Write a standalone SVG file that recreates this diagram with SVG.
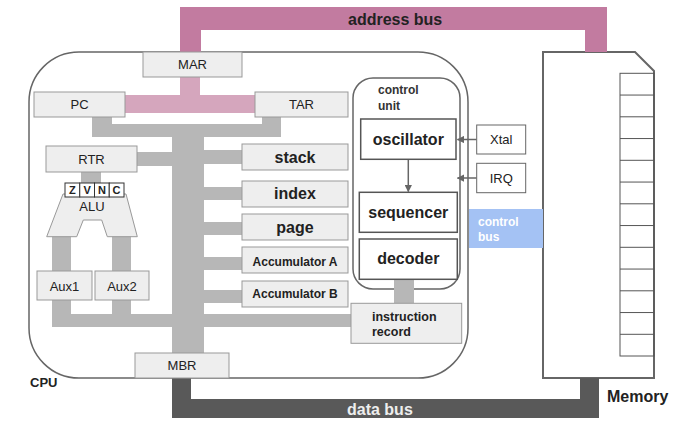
<svg xmlns="http://www.w3.org/2000/svg" width="690" height="431" viewBox="0 0 690 431">
<defs>
<marker id="arr" viewBox="0 0 10 10" refX="9" refY="5" markerWidth="5" markerHeight="5" orient="auto-start-reverse">
<path d="M0,0 L10,5 L0,10 Z" fill="#666"/>
</marker>
</defs>
<style>
text{font-family:"Liberation Sans",Arial,sans-serif;fill:#222}
.reg{fill:#eeeeee;stroke:#999;stroke-width:1}
.wbox{fill:#fff;stroke:#555;stroke-width:1.5}
.gbus{fill:#b7b7b7}
.lbl{font-size:13px;text-anchor:middle}
.big{font-size:16px;font-weight:bold;text-anchor:middle}
.med{font-size:12px;font-weight:bold;text-anchor:middle}
.arrow{stroke:#666;stroke-width:1.5;fill:none;marker-end:url(#arr)}
.flag{fill:#fff;stroke:#333;stroke-width:1}
.fl{font-size:11px;font-weight:bold;text-anchor:middle}
</style>
<rect width="690" height="431" fill="#fff"/>

<g id="cpu">
<rect x="29" y="52" width="439" height="326" rx="50" ry="50" fill="#fff" stroke="#666" stroke-width="1.5"/>
<text x="30" y="387" style="font-size:13px;font-weight:bold">CPU</text>
</g>

<g id="control-unit">
<rect x="353" y="78" width="107" height="211" rx="20" ry="20" fill="#fff" stroke="#666" stroke-width="1.5"/>
<text x="378" y="94" style="font-size:12px;font-weight:bold;fill:#333">control</text>
<text x="378" y="110" style="font-size:12px;font-weight:bold;fill:#333">unit</text>
</g>

<g id="memory">
<path d="M543,52 H635 L654,71 V378 H543 Z" fill="#fff" stroke="#666" stroke-width="2"/>
<g stroke="#555" stroke-width="1" fill="none">
<rect x="620" y="73.3" width="34" height="282.7"/>
<path d="M620,95.05H654M620,116.8H654M620,138.55H654M620,160.3H654M620,182.05H654M620,203.8H654M620,225.55H654M620,247.3H654M620,269.05H654M620,290.8H654M620,312.55H654M620,334.3H654"/>
</g>
<text x="607" y="402" style="font-size:16px;font-weight:bold">Memory</text>
</g>

<g id="connectors">
<path id="address-bus" d="M180,52 V7 H607 V52 H585 V30 H201 V52 Z" fill="#c27ba0"/>
<text x="348" y="25" style="font-size:16px;font-weight:bold">address bus</text>
<path d="M180,77 H200 V95 H255 V113 H125 V95 H180 Z" fill="#d5a6bd"/>
<path class="gbus" d="M92,117 H112 V124 H262 V117 H281 V137 H92 Z"/>
<rect class="gbus" x="172" y="124" width="32" height="229"/>
<rect class="gbus" x="137" y="152" width="35" height="14"/>
<rect class="gbus" x="204" y="150" width="38" height="14"/>
<rect class="gbus" x="204" y="187" width="38" height="13"/>
<rect class="gbus" x="204" y="222" width="38" height="13"/>
<rect class="gbus" x="204" y="257" width="38" height="13"/>
<rect class="gbus" x="204" y="290" width="38" height="13"/>
<rect class="gbus" x="52" y="314" width="299" height="13"/>
<rect class="gbus" x="52" y="300" width="19" height="14"/>
<rect class="gbus" x="112" y="300" width="19" height="14"/>
<rect class="gbus" x="52" y="236" width="19" height="35"/>
<rect class="gbus" x="112" y="236" width="19" height="35"/>
<rect class="gbus" x="81" y="172" width="20" height="11"/>
<rect class="gbus" x="394" y="279" width="20" height="24"/>
<path id="data-bus" d="M172,378 H191 V399 H580 V378 H599 V418 H172 Z" fill="#595959"/>
<text x="347" y="415" style="font-size:16px;font-weight:bold;fill:#eeeeee">data bus</text>
<line class="arrow" x1="408.3" y1="159.5" x2="408.3" y2="191.5"/>
<line class="arrow" x1="476.7" y1="139.5" x2="457.5" y2="139.5"/>
<line class="arrow" x1="476.7" y1="178" x2="457.5" y2="178"/>
</g>

<g id="control-bus">
<rect x="469" y="209" width="74" height="39" fill="#a4c2f4"/>
<text x="478" y="225.5" style="font-size:12px;font-weight:bold;fill:#fff">control</text>
<text x="478" y="240.5" style="font-size:12px;font-weight:bold;fill:#fff">bus</text>
</g>

<g id="mar"><rect class="reg" x="143" y="52" width="99" height="25"/><text class="lbl" x="192.5" y="69">MAR</text></g>
<g id="pc"><rect class="reg" x="34" y="92" width="91" height="25"/><text class="lbl" x="79.5" y="109">PC</text></g>
<g id="tar"><rect class="reg" x="255" y="92" width="93" height="25"/><text class="lbl" x="301.5" y="109">TAR</text></g>
<g id="rtr"><rect class="reg" x="46" y="146" width="91" height="26"/><text class="lbl" x="91.5" y="163.5">RTR</text></g>

<g id="alu">
<path class="reg" d="M63,194 H126 L137.3,236.7 H107.3 L101.7,220 H83.3 L76.7,236.7 H46.7 Z"/>
<text class="lbl" x="92" y="211">ALU</text>
</g>
<g id="flags">
<rect class="flag" x="65" y="183" width="14.75" height="14"/>
<rect class="flag" x="79.75" y="183" width="14.75" height="14"/>
<rect class="flag" x="94.5" y="183" width="14.75" height="14"/>
<rect class="flag" x="109.25" y="183" width="14.75" height="14"/>
<text class="fl" x="72.4" y="194">Z</text>
<text class="fl" x="87.1" y="194">V</text>
<text class="fl" x="101.9" y="194">N</text>
<text class="fl" x="116.6" y="194">C</text>
</g>

<g id="aux1"><rect class="reg" x="37" y="271" width="55" height="29"/><text class="lbl" x="64.5" y="291">Aux1</text></g>
<g id="aux2"><rect class="reg" x="95" y="271" width="54" height="29"/><text class="lbl" x="122" y="291">Aux2</text></g>

<g id="stack"><rect class="reg" x="242" y="144" width="106" height="26"/><text class="big" x="295" y="163">stack</text></g>
<g id="index"><rect class="reg" x="242" y="181" width="106" height="26"/><text class="big" x="295" y="199">index</text></g>
<g id="page"><rect class="reg" x="242" y="214" width="106" height="26"/><text class="big" x="295" y="232.5">page</text></g>
<g id="accumulator-a"><rect class="reg" x="242" y="247" width="106" height="26"/><text class="med" x="295" y="266">Accumulator A</text></g>
<g id="accumulator-b"><rect class="reg" x="242" y="281" width="106" height="26"/><text class="med" x="295" y="298">Accumulator B</text></g>

<g id="mbr"><rect class="reg" x="135" y="353" width="94" height="25"/><text class="lbl" x="182" y="370">MBR</text></g>

<g id="oscillator"><rect class="wbox" x="360.7" y="119" width="95.3" height="40.3"/><text class="big" x="408.3" y="144.5">oscillator</text></g>
<g id="sequencer"><rect class="wbox" x="359.3" y="192.3" width="98" height="40"/><text class="big" x="408.3" y="217.5">sequencer</text></g>
<g id="decoder"><rect class="wbox" x="359.3" y="239" width="98" height="40.3"/><text class="big" x="408.3" y="264">decoder</text></g>

<g id="xtal"><rect class="reg" x="476.7" y="125" width="49" height="29" style="fill:#fff;stroke:#666"/><text class="lbl" x="501.2" y="144">Xtal</text></g>
<g id="irq"><rect class="reg" x="476.7" y="163.3" width="49" height="29.4" style="fill:#fff;stroke:#666"/><text class="lbl" x="501.2" y="182.7">IRQ</text></g>

<g id="instruction-record">
<rect class="reg" x="351" y="303.3" width="110.7" height="40"/>
<text x="372" y="320.7" style="font-size:12.5px;font-weight:bold">instruction</text>
<text x="372" y="335.7" style="font-size:12.5px;font-weight:bold">record</text>
</g>
</svg>
